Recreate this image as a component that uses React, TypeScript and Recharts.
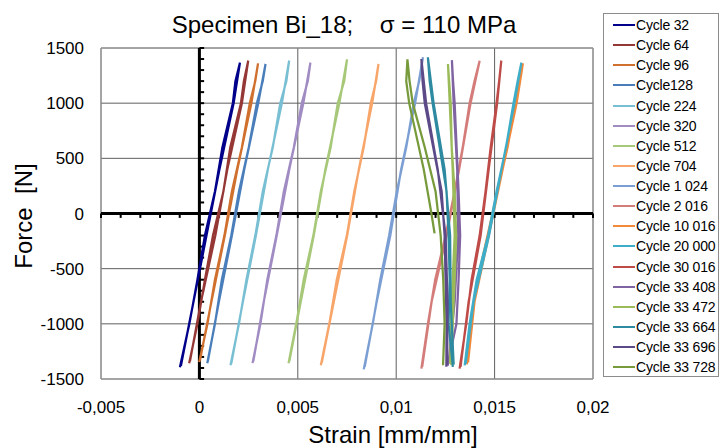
import React from "react";
import {
  LineChart,
  Line,
  XAxis,
  YAxis,
  CartesianGrid,
  ReferenceLine,
  ReferenceArea,
  Legend,
} from "recharts";

type Pt = [number, number]; // [strain, force]

// hysteresis loops: up branch then down branch
const cycle32: Pt[] = [[-0.00099,-1394],[-0.00051,-1000],[-0.0001,-600],[0.00028,-200],[0.00079,200],[0.00117,600],[0.0017,1000],[0.00183,1200],[0.00206,1367],[0.00174,1000],[0.00102,400],[0.00036,-200],[-0.0003,-800],[-0.00094,-1380]];
const cycle64: Pt[] = [[-0.00052,-1358],[-0.0001,-1000],[0.00028,-600],[0.00069,-200],[0.00122,200],[0.00157,600],[0.00211,1000],[0.00226,1200],[0.00248,1385],[0.00216,1000],[0.00142,400],[0.00081,-200],[0.00008,-800],[-0.00048,-1340]];
const cycle96: Pt[] = [[-0.00001,-1347],[0.00041,-1000],[0.00079,-600],[0.00127,-200],[0.00165,200],[0.00216,600],[0.00256,1000],[0.00284,1200],[0.00298,1361],[0.00264,1000],[0.00193,400],[0.00129,-200],[0.00061,-800],[0.00003,-1330]];
const cycle128: Pt[] = [[0.0004,-1358],[0.00079,-1000],[0.00114,-600],[0.00162,-200],[0.00201,200],[0.00251,600],[0.00292,1000],[0.00322,1200],[0.00336,1355],[0.00299,1000],[0.00228,400],[0.00165,-200],[0.00099,-800],[0.00043,-1340]];
const cycle224: Pt[] = [[0.00158,-1376],[0.00201,-1000],[0.00239,-600],[0.00284,-200],[0.00322,200],[0.00373,600],[0.00411,1000],[0.00442,1200],[0.00456,1385],[0.00419,1000],[0.00348,400],[0.00287,-200],[0.00221,-800],[0.00162,-1360]];
const cycle320: Pt[] = [[0.0027,-1356],[0.0031,-1000],[0.00345,-600],[0.00391,-200],[0.00429,200],[0.0048,600],[0.0052,1000],[0.00551,1200],[0.00564,1367],[0.00528,1000],[0.00457,400],[0.00393,-200],[0.00327,-800],[0.00274,-1340]];
const cycle512: Pt[] = [[0.00453,-1358],[0.00492,-1000],[0.0053,-600],[0.00579,-200],[0.00617,200],[0.00667,600],[0.00703,1000],[0.00736,1200],[0.0075,1397],[0.00711,1000],[0.0064,400],[0.00581,-200],[0.00515,-800],[0.00457,-1340]];
const cycle704: Pt[] = [[0.00617,-1376],[0.0066,-1000],[0.00698,-600],[0.00749,-200],[0.00787,200],[0.00835,600],[0.00871,1000],[0.00898,1200],[0.0091,1355],[0.00878,1000],[0.0081,400],[0.00751,-200],[0.00683,-800],[0.00622,-1350]];
const cycle1024: Pt[] = [[0.00835,-1413],[0.00881,-1000],[0.00919,-600],[0.00964,-200],[0.01003,200],[0.01051,600],[0.01089,1000],[0.01117,1200],[0.01136,1416],[0.01096,1000],[0.01025,400],[0.0097,-200],[0.00901,-800],[0.0084,-1390]];
const cycle2016: Pt[] = [[0.01128,-1406],[0.01161,-1000],[0.01198,-600],[0.01251,-200],[0.01297,200],[0.01338,600],[0.01373,1000],[0.01398,1200],[0.01424,1385],[0.01378,1000],[0.0132,400],[0.01256,-200],[0.0118,-800],[0.01132,-1390]];
const cycle10016: Pt[] = [[0.01359,-1367],[0.01382,-1000],[0.01414,-600],[0.01464,-200],[0.01515,200],[0.01566,600],[0.01607,1000],[0.01627,1200],[0.01644,1361],[0.01612,1000],[0.01541,400],[0.0147,-200],[0.01398,-800],[0.01365,-1350]];
const cycle20000: Pt[] = [[0.01348,-1376],[0.01373,-1000],[0.01409,-600],[0.01467,-200],[0.0151,200],[0.01558,600],[0.01596,1000],[0.01617,1200],[0.01636,1367],[0.01601,1000],[0.01535,400],[0.01472,-200],[0.01393,-800],[0.01353,-1360]];
const cycle30016: Pt[] = [[0.01322,-1406],[0.01356,-1000],[0.01383,-600],[0.01424,-200],[0.01454,200],[0.0148,600],[0.0151,1000],[0.01523,1200],[0.01534,1385],[0.01513,1000],[0.0147,400],[0.01429,-200],[0.01368,-800],[0.01327,-1390]];
const cycle33408: Pt[] = [[0.01261,-1380],[0.01306,-1000],[0.01317,-600],[0.01325,-200],[0.01317,200],[0.01307,600],[0.01297,1000],[0.01289,1200],[0.01283,1390],[0.01292,1000],[0.0131,400],[0.01315,-200],[0.01297,-800],[0.01266,-1360]];
const cycle33472: Pt[] = [[0.0128,-1376],[0.01287,-1000],[0.01297,-600],[0.01305,-200],[0.01297,200],[0.01282,600],[0.01277,1000],[0.01269,1200],[0.01263,1355],[0.01272,1000],[0.01287,400],[0.01297,-200],[0.01282,-800],[0.01274,-1360]];
const cycle33664: Pt[] = [[0.01288,-1390],[0.01266,-1000],[0.01272,-600],[0.01266,-200],[0.01256,200],[0.01221,600],[0.01185,1000],[0.0117,1200],[0.01161,1416],[0.0119,1000],[0.01246,400],[0.01274,-200],[0.01277,-800],[0.01292,-1370]];
const cycle33696: Pt[] = [[0.01255,-1390],[0.01256,-1000],[0.01251,-600],[0.01246,-200],[0.01231,200],[0.01188,600],[0.01145,1000],[0.01134,1200],[0.01128,1400],[0.01152,1000],[0.01211,400],[0.01251,-200],[0.01261,-800],[0.01259,-1370]];
const cycle33728: Pt[] = [[0.01238,-1376],[0.01246,-1000],[0.01239,-600],[0.01226,-200],[0.012,200],[0.01145,600],[0.01084,1000],[0.01068,1200],[0.01057,1397],[0.01051,1200],[0.01066,1000],[0.0114,400],[0.01179,0],[0.01195,-180]];

const cycleNames = [
  "Cycle 32", "Cycle 64", "Cycle 96", "Cycle128", "Cycle 224", "Cycle 320",
  "Cycle 512", "Cycle 704", "Cycle 1 024", "Cycle 2 016", "Cycle 10 016",
  "Cycle 20 000", "Cycle 30 016", "Cycle 33 408", "Cycle 33 472",
  "Cycle 33 664", "Cycle 33 696", "Cycle 33 728",
];
const cycleColors = [
  "#00008b", "#953735", "#d0702e", "#4a7ebb", "#78bfd3", "#a08bc2",
  "#a6c878", "#f8a56a", "#7c9fd3", "#d47c7a", "#f2883a", "#3dadc8",
  "#be4b48", "#8064a2", "#9bbb59", "#2e8aa0", "#5c4a88", "#779a3b",
];
const cycleData = [
  cycle32, cycle64, cycle96, cycle128, cycle224, cycle320, cycle512, cycle704,
  cycle1024, cycle2016, cycle10016, cycle20000, cycle30016, cycle33408,
  cycle33472, cycle33664, cycle33696, cycle33728,
];

const strainTicks = [-0.005, 0, 0.005, 0.01, 0.015, 0.02];
const forceTicks = [-1500, -1000, -500, 0, 500, 1000, 1500];
const strainMinor = [-0.005, -0.004, -0.003, -0.002, -0.001, 0.001, 0.002, 0.003, 0.004, 0.005, 0.006, 0.007, 0.008, 0.009, 0.01, 0.011, 0.012, 0.013, 0.014, 0.015, 0.016, 0.017, 0.018, 0.019, 0.02];
const forceMinor = [-1500, -1400, -1300, -1200, -1100, -1000, -900, -800, -700, -600, -500, -400, -300, -200, -100, 100, 200, 300, 400, 500, 600, 700, 800, 900, 1000, 1100, 1200, 1300, 1400, 1500];

const FONT = "'Liberation Sans', Arial, sans-serif";

const series = cycleNames.map((name, i) => ({
  name,
  color: cycleColors[i],
  data: cycleData[i].map(([x, y]) => ({ x, y })),
}));

function LegendBox(props: any) {
  // keep the series order, not alphabetical
  const items = [...(props.payload || [])].sort(
    (a: any, b: any) => cycleNames.indexOf(a.value) - cycleNames.indexOf(b.value)
  );
  return (
    <div
      style={{
        width: 116,
        height: 364,
        boxSizing: "border-box",
        border: "1px solid #8c8c8c",
        background: "#fff",
        paddingTop: 1,
        fontFamily: FONT,
        fontSize: 14,
        letterSpacing: "-0.2px",
        color: "#000",
      }}
    >
      {items.map((entry: any) => (
        <div
          key={entry.value}
          style={{ display: "flex", alignItems: "center", height: 20.14 }}
        >
          <span
            style={{
              display: "inline-block",
              marginLeft: 9,
              width: 22,
              height: 2,
              background: entry.color,
            }}
          />
          <span style={{ marginLeft: 1, whiteSpace: "nowrap" }}>{entry.value}</span>
        </div>
      ))}
    </div>
  );
}

export default function App() {
  return (
    <div
      style={{
        position: "absolute",
        left: 0,
        top: 0,
        width: 721,
        height: 448,
        background: "#fff",
        fontFamily: FONT,
      }}
    >
      <LineChart
        width={721}
        height={448}
        margin={{ top: 48, right: 128, bottom: 39, left: 41 }}
      >
        <CartesianGrid stroke="#5e5e5e" strokeWidth={1} />
        <ReferenceArea
          x1={-0.005}
          x2={0.02}
          y1={-1500}
          y2={1500}
          fill="none"
          stroke="#9a9a9a"
        />
        <XAxis
          type="number"
          dataKey="x"
          domain={[-0.005, 0.02]}
          ticks={strainTicks}
          interval={0}
          allowDataOverflow
          axisLine={false}
          tickLine={false}
          tickSize={0}
          tickMargin={22}
          height={30}
          tickFormatter={(v: number) => String(v).replace(".", ",")}
          tick={{ fill: "#000", fontSize: 17, fontFamily: FONT }}
        />
        <YAxis
          type="number"
          domain={[-1500, 1500]}
          ticks={forceTicks}
          interval={0}
          allowDataOverflow
          axisLine={false}
          tickLine={false}
          tickSize={0}
          tickMargin={17}
          width={60}
          tick={{ fill: "#000", fontSize: 17, fontFamily: FONT }}
        />

        {forceMinor.map((f) => (
          <ReferenceLine
            key={"fy" + f}
            segment={[{ x: 0, y: f }, { x: 0.00024, y: f }]}
            stroke="#000"
            strokeWidth={2}
          />
        ))}
        {strainMinor.map((s) => (
          <ReferenceLine
            key={"sx" + s}
            segment={[{ x: s, y: 0 }, { x: s, y: -40 }]}
            stroke="#000"
            strokeWidth={2}
          />
        ))}
        <ReferenceLine x={0} stroke="#000" strokeWidth={3} />
        <ReferenceLine y={0} stroke="#000" strokeWidth={3} />

        {series.map((s) => (
          <Line
            key={s.name}
            name={s.name}
            data={s.data}
            dataKey="y"
            type="linear"
            stroke={s.color}
            strokeWidth={2.25}
            dot={false}
            activeDot={false}
            legendType="line"
            isAnimationActive={false}
          />
        ))}

        <Legend
          layout="horizontal"
          align="center"
          verticalAlign="middle"
          content={<LegendBox />}
          wrapperStyle={{ left: 603, top: 13, width: 116, height: 364 }}
        />
      </LineChart>

      <div
        style={{
          position: "absolute",
          left: 144,
          top: 11,
          width: 400,
          textAlign: "center",
          fontSize: 24,
          lineHeight: "28px",
          whiteSpace: "pre",
          color: "#000",
        }}
      >
        {"Specimen Bi_18;    \u03c3 = 110 MPa"}
      </div>
      <div
        style={{
          position: "absolute",
          left: 293,
          top: 421,
          width: 200,
          textAlign: "center",
          fontSize: 24,
          lineHeight: "28px",
          whiteSpace: "pre",
          color: "#000",
        }}
      >
        Strain [mm/mm]
      </div>
      <div
        style={{
          position: "absolute",
          left: 24 - 80,
          top: 216 - 14,
          width: 160,
          height: 28,
          textAlign: "center",
          fontSize: 24,
          lineHeight: "28px",
          whiteSpace: "pre",
          color: "#000",
          transform: "rotate(-90deg)",
        }}
      >
        {"Force  [N]"}
      </div>
    </div>
  );
}
